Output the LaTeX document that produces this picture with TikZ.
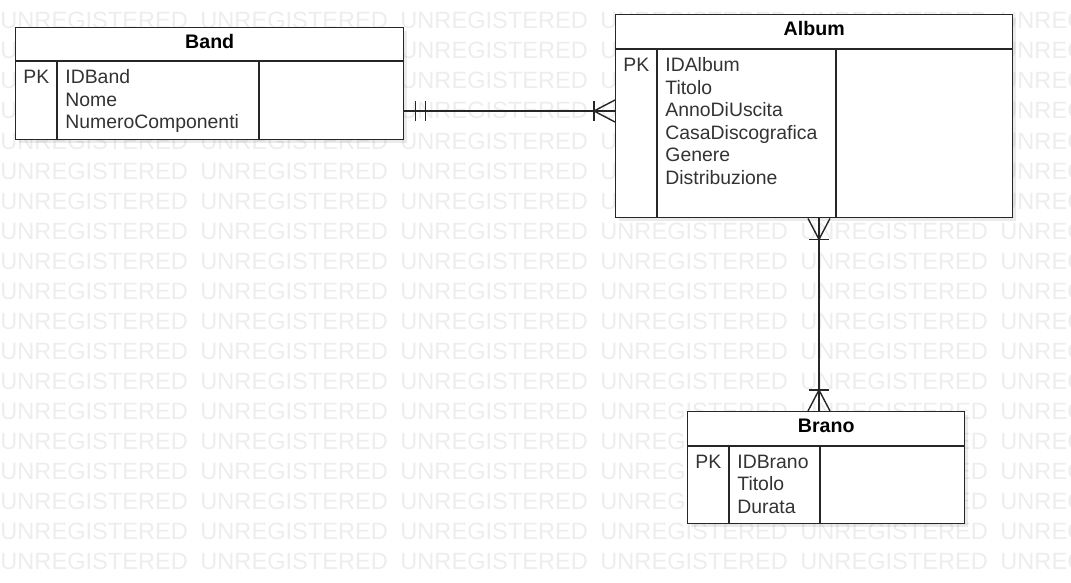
\documentclass[tikz,border=0pt]{standalone}
\usepackage{fontspec}
\setmainfont{Liberation Sans}
\usetikzlibrary{positioning, calc, shadows}

\begin{document}
\begin{tikzpicture}[
            x=0.5pt, y=-0.5pt,
            entity/.style={draw=black!85, line width=0.7pt, fill=white, rectangle, inner sep=0pt, anchor=north west,
                drop shadow={shadow xshift=1.5pt, shadow yshift=-1.5pt, opacity=0.08, fill=black}},
            sep/.style={draw=black!85, line width=0.7pt},
            title/.style={font=\fontsize{9.8}{11.25}\selectfont\bfseries, anchor=base, inner sep=0pt},
            attr/.style={font=\fontsize{9.7}{11.25}\selectfont, text=black!80, anchor=base west, inner sep=0pt},
            rel/.style={draw=black!85, line width=0.7pt},
            wmark/.style={font=\fontsize{11.8}{12}\selectfont, text=black!7, anchor=base west, inner sep=0pt}
        ]
        \useasboundingbox (0,0) rectangle (1071,583);

        % Wasserzeichen
        \foreach \r in {0,...,18}
            \foreach \c in {0,...,5}
                \node[wmark] (wm-\r-\c) at (200*\c, 29+30*\r) {UNREGISTERED};

        % Tabellen
        \node[entity, minimum width=194pt, minimum height=56pt] (band) at (15,27) {};
        \node[entity, minimum width=198.5pt, minimum height=101.5pt] (album) at (615,14) {};
        \node[entity, minimum width=138.5pt, minimum height=56pt] (brano) at (687,411) {};

        \draw[sep] ($(band.north west)+(0,34)$) -- ($(band.north east)+(0,34)$);
        \draw[sep] ($(band.north west)+(42,34)$) -- ($(band.south west)+(42,0)$);
        \draw[sep] ($(band.north west)+(244,34)$) -- ($(band.south west)+(244,0)$);
        \node[title] (band-t) at ($(band.north)+(0,22)$) {Band};
        \node[attr] (band-pk) at ($(band.north west)+(8,57)$) {PK};
        \node[attr] (band-a) at ($(band.north west)+(50,57)$)
            {\begin{tabular}[t]{@{}l@{}}IDBand\\Nome\\NumeroComponenti\end{tabular}};

        \draw[sep] ($(album.north west)+(0,35)$) -- ($(album.north east)+(0,35)$);
        \draw[sep] ($(album.north west)+(42,35)$) -- ($(album.south west)+(42,0)$);
        \draw[sep] ($(album.north west)+(221,35)$) -- ($(album.south west)+(221,0)$);
        \node[title] (album-t) at ($(album.north)+(0,22)$) {Album};
        \node[attr] (album-pk) at ($(album.north west)+(8,58)$) {PK};
        \node[attr] (album-a) at ($(album.north west)+(50,58)$)
            {\begin{tabular}[t]{@{}l@{}}IDAlbum\\Titolo\\AnnoDiUscita\\CasaDiscografica\\Genere\\Distribuzione\end{tabular}};

        \draw[sep] ($(brano.north west)+(0,35)$) -- ($(brano.north east)+(0,35)$);
        \draw[sep] ($(brano.north west)+(42,35)$) -- ($(brano.south west)+(42,0)$);
        \draw[sep] ($(brano.north west)+(133,35)$) -- ($(brano.south west)+(133,0)$);
        \node[title] (brano-t) at ($(brano.north)+(0,21)$) {Brano};
        \node[attr] (brano-pk) at ($(brano.north west)+(8,57)$) {PK};
        \node[attr] (brano-a) at ($(brano.north west)+(50,57)$)
            {\begin{tabular}[t]{@{}l@{}}IDBrano\\Titolo\\Durata\end{tabular}};

        % Beziehungen
        \coordinate (r1) at (0,111);
        \coordinate (r2) at (819,0);

        \draw[rel] (band.east |- r1) -- (album.west |- r1);
        \draw[rel] ($(band.east |- r1)+(11,-10)$) -- ++(0,20);
        \draw[rel] ($(band.east |- r1)+(21,-10)$) -- ++(0,20);
        \draw[rel] ($(album.west |- r1)+(-21,-10)$) -- ++(0,20);
        \draw[rel] ($(album.west |- r1)+(0,-11)$) -- ($(album.west |- r1)+(-21,0)$) -- ($(album.west |- r1)+(0,11)$);

        \draw[rel] (album.south -| r2) -- (brano.north -| r2);
        \draw[rel] ($(album.south -| r2)+(-10,21)$) -- ++(20,0);
        \draw[rel] ($(album.south -| r2)+(-11,0)$) -- ($(album.south -| r2)+(0,21)$) -- ($(album.south -| r2)+(11,0)$);
        \draw[rel] ($(brano.north -| r2)+(-10,-21)$) -- ++(20,0);
        \draw[rel] ($(brano.north -| r2)+(-11,0)$) -- ($(brano.north -| r2)+(0,-21)$) -- ($(brano.north -| r2)+(11,0)$);

    \end{tikzpicture}
\end{document}
